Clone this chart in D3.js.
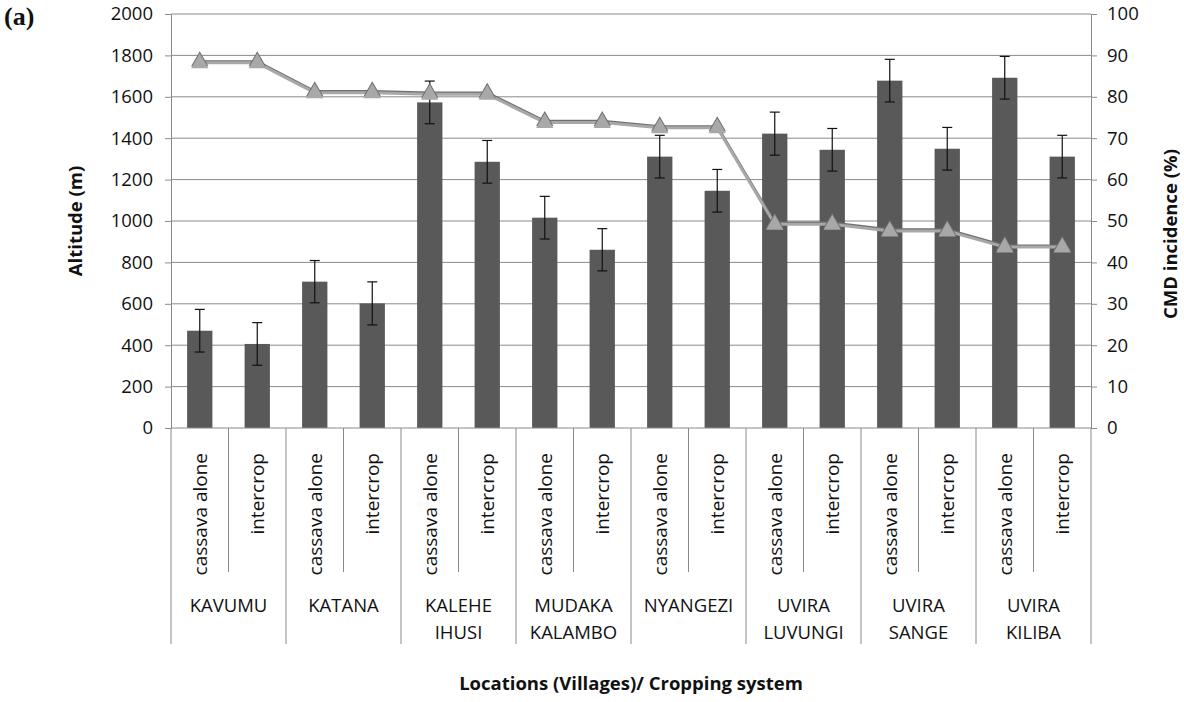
<!DOCTYPE html>
<html>
<head>
<meta charset="utf-8">
<script src="https://cdn.jsdelivr.net/npm/d3@7"></script>
<style>
  body { margin: 0; background: #fff; }
  text { font-family: "Open Sans", sans-serif; fill: #111; }
</style>
</head>
<body>
<div id="viz"></div>
<script>
// data
const groups = [['KAVUMU'], ['KATANA'], ['KALEHE', 'IHUSI'], ['MUDAKA', 'KALAMBO'], ['NYANGEZI'],
  ['UVIRA', 'LUVUNGI'], ['UVIRA', 'SANGE'], ['UVIRA', 'KILIBA']];
const systems = ['cassava alone', 'intercrop'];
const altitude = [470, 406, 707, 602, 1573, 1286, 1016, 861, 1311, 1146, 1422, 1344, 1678, 1349, 1692, 1311];
const altitudeErr = [103, 103, 102, 104, 103, 103, 103, 102, 103, 103, 104, 103, 103, 103, 103, 103];
const cmdIncidence = [88.2, 88.2, 81.0, 81.0, 80.6, 80.6, 73.8, 73.8, 72.5, 72.5, 49.2, 49.2, 47.6, 47.6, 43.7, 43.7];
const leftTicks = [0, 200, 400, 600, 800, 1000, 1200, 1400, 1600, 1800, 2000];
const rightTicks = [0, 10, 20, 30, 40, 50, 60, 70, 80, 90, 100];

const width = 1184, height = 702;
const m = { top: 14, right: 93, bottom: 274, left: 171 };
const plotW = width - m.left - m.right;
const plotH = height - m.top - m.bottom;

const svg = d3.select('#viz').append('svg')
  .attr('width', width).attr('height', height);

const idx = d3.range(altitude.length);
const x = d3.scaleBand().domain(idx).range([m.left, m.left + plotW]).padding(0);
const y = d3.scaleLinear().domain([0, 2000]).range([m.top + plotH, m.top]);
const y2 = d3.scaleLinear().domain([0, 100]).range([m.top + plotH, m.top]);
const grey = '#8a8a8a';

// gridlines
svg.append('g').selectAll('line').data(leftTicks.slice(1)).join('line')
  .attr('x1', m.left).attr('x2', m.left + plotW)
  .attr('y1', d => y(d)).attr('y2', d => y(d))
  .attr('stroke', grey).attr('stroke-width', 1);

// left axis
const yAxis = svg.append('g')
  .attr('transform', `translate(${m.left},0)`)
  .call(d3.axisLeft(y).tickValues(leftTicks).tickFormat(d3.format('d')).tickSize(6).tickPadding(12));
yAxis.select('.domain').attr('stroke', grey);
yAxis.selectAll('.tick line').attr('stroke', grey);
yAxis.selectAll('.tick text').attr('font-size', 18.5).attr('font-family', '"Open Sans"').attr('fill', '#111');

// right axis
const y2Axis = svg.append('g')
  .attr('transform', `translate(${m.left + plotW},0)`)
  .call(d3.axisRight(y2).tickValues(rightTicks).tickFormat(d3.format('d')).tickSize(6).tickPadding(10));
y2Axis.select('.domain').attr('stroke', grey);
y2Axis.selectAll('.tick line').attr('stroke', grey);
y2Axis.selectAll('.tick text').attr('font-size', 18.5).attr('font-family', '"Open Sans"').attr('fill', '#111');

// bars
const barW = x.bandwidth() * 0.44;
const cx = i => x(i) + x.bandwidth() / 2;
svg.append('g').selectAll('rect').data(idx).join('rect')
  .attr('x', i => cx(i) - barW / 2)
  .attr('y', i => y(altitude[i]))
  .attr('width', barW)
  .attr('height', i => y(0) - y(altitude[i]))
  .attr('fill', '#595959');

// error bars
const err = svg.append('g').attr('stroke', '#111').attr('stroke-width', 1.2);
idx.forEach(i => {
  const hi = y(altitude[i] + altitudeErr[i]), lo = y(altitude[i] - altitudeErr[i]);
  err.append('line').attr('x1', cx(i)).attr('x2', cx(i)).attr('y1', hi).attr('y2', lo);
  err.append('line').attr('x1', cx(i) - 5).attr('x2', cx(i) + 5).attr('y1', hi).attr('y2', hi);
  err.append('line').attr('x1', cx(i) - 5).attr('x2', cx(i) + 5).attr('y1', lo).attr('y2', lo);
});

// CMD line
const line = d3.line().x(i => cx(i)).y(i => y2(cmdIncidence[i]));
svg.append('path').attr('d', line(idx))
  .attr('fill', 'none').attr('stroke', '#6f6f6f').attr('stroke-width', 3)
  .attr('transform', 'translate(0,-1.2)');
svg.append('path').attr('d', line(idx))
  .attr('fill', 'none').attr('stroke', '#a8a8a8').attr('stroke-width', 3);

const tri = d3.symbol(d3.symbolTriangle, 130);
svg.append('g').selectAll('path').data(idx).join('path')
  .attr('d', tri)
  .attr('transform', i => `translate(${cx(i)},${y2(cmdIncidence[i]) - 1.5})`)
  .attr('fill', '#6f6f6f');
svg.append('g').selectAll('path').data(idx).join('path')
  .attr('d', tri)
  .attr('transform', i => `translate(${cx(i)},${y2(cmdIncidence[i]) + 0.5})`)
  .attr('fill', '#a8a8a8');

// category axis (two levels)
const base = y(0);
const cat = svg.append('g').attr('stroke', grey).attr('stroke-width', 1);
d3.range(altitude.length + 1).forEach(k => {
  const xx = k < altitude.length ? x(k) : m.left + plotW;
  const isGroup = k % 2 === 0;
  cat.append('line').attr('x1', xx).attr('x2', xx)
    .attr('y1', base).attr('y2', isGroup ? 644 : 572);
});
svg.append('line').attr('x1', m.left).attr('x2', m.left + plotW)
  .attr('y1', base).attr('y2', base).attr('stroke', grey);

svg.append('g').selectAll('text').data(idx).join('text')
  .attr('transform', i => `translate(${cx(i) + 7},453) rotate(-90)`)
  .attr('text-anchor', 'end')
  .attr('font-size', 19)
  .text(i => systems[i % 2]);

groups.forEach((g, gi) => {
  const gx = x(gi * 2) + x.bandwidth();
  g.forEach((t, li) => {
    svg.append('text')
      .attr('x', gx).attr('y', 612 + li * 27)
      .attr('text-anchor', 'middle')
      .attr('font-size', 18.5)
      .text(t);
  });
});

// titles
svg.append('text')
  .attr('transform', `translate(82,${m.top + plotH / 2}) rotate(-90)`)
  .attr('text-anchor', 'middle').attr('font-size', 18.5).attr('font-weight', 'bold')
  .text('Altitude (m)');
svg.append('text')
  .attr('transform', `translate(1177,234) rotate(-90)`)
  .attr('text-anchor', 'middle').attr('font-size', 18.5).attr('font-weight', 'bold')
  .text('CMD incidence (%)');
svg.append('text')
  .attr('x', m.left + plotW / 2).attr('y', 690)
  .attr('text-anchor', 'middle').attr('font-size', 18.5).attr('font-weight', 'bold')
  .text('Locations (Villages)/ Cropping system');
svg.append('text')
  .attr('x', 4).attr('y', 25)
  .attr('font-size', 26).attr('font-weight', 'bold')
  .style('font-family', '"Liberation Serif", serif')
  .text('(a)');
</script>
</body>
</html>
